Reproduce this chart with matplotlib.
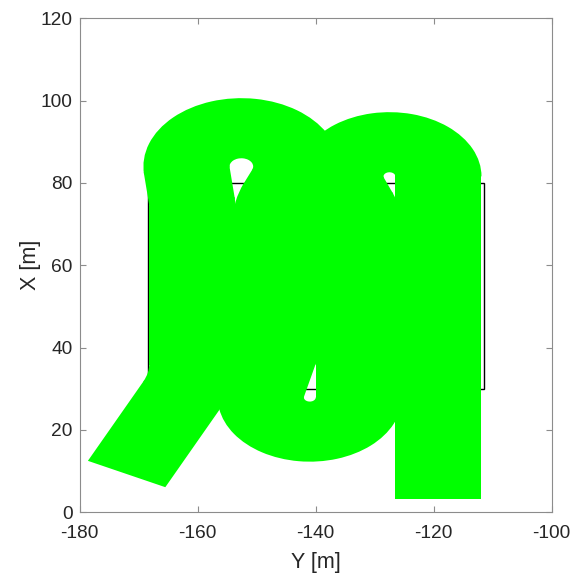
import numpy as np
import matplotlib.pyplot as plt
from matplotlib.patches import Wedge, Polygon, Rectangle

plt.rcParams['font.family'] = ['Liberation Sans', 'DejaVu Sans']
plt.rcParams['axes.unicode_minus'] = False

# field boundary [m]
field_y = [-168.4, -111.5]
field_x = [30.0, 80.0]

# implement working width [m]
swath = 14.6

# path start and end points (Y, X)
start_pt = (-172.05, 9.3)
end_pt = (-119.2, 3.2)

# turning circles along the path: centre Y, centre X, radius, sense (+1 ccw, -1 cw)
turn_y = [-178.4, -175.9, -152.6, -131.7, -161.7, -141.0, -147.7, -127.5]
turn_x = [36.2, 74.0, 84.0, 71.1, 41.2, 27.9, 69.4, 81.6]
turn_r = [17.5, 15.0, 9.3, 15.0, 15.0, 8.3, 15.0, 8.3]
turn_dir = [1, 1, -1, 1, -1, 1, 1, -1]

green = '#00ff00'
half = swath / 2.0


def unit(deg):
    a = np.radians(deg)
    return np.array([np.cos(a), np.sin(a)])


def tangent(c1, r1, s1, c2, r2, s2):
    # common tangent leaving circle 1 and joining circle 2 in the right sense
    v = c2 - c1
    D = np.hypot(*v)
    k = s2 * r2 - s1 * r1
    L = np.sqrt(D**2 - k**2)
    head = np.degrees(np.arctan2(v[1], v[0]) - np.arctan2(k, L))
    nl = unit(head + 90)
    return c1 - s1 * r1 * nl, c2 - s2 * r2 * nl, head


def band(p, q, ext0, ext1):
    d = (q - p) / np.hypot(*(q - p))
    n = np.array([-d[1], d[0]]) * half
    a = p - d * ext0
    b = q + d * ext1
    return Polygon([a + n, b + n, b - n, a - n], closed=True)


nodes = [(np.array(start_pt), 0.0, 0)]
for y, x, r, s in zip(turn_y, turn_x, turn_r, turn_dir):
    nodes.append((np.array([y, x]), r, s))
nodes.append((np.array(end_pt), 0.0, 0))

fig = plt.figure(figsize=(5.74, 5.76), dpi=100)
ax = fig.add_axes([79.7 / 574, 1 - 512.3 / 576, 472.0 / 574, 494.0 / 576])

ax.add_patch(Rectangle((field_y[0], field_x[0]), field_y[1] - field_y[0],
                       field_x[1] - field_x[0], fill=False,
                       edgecolor='black', linewidth=1.0, zorder=1))

patches = []
enter = [None] * len(nodes)
leave = [None] * len(nodes)
for i in range(len(nodes) - 1):
    c1, r1, s1 = nodes[i]
    c2, r2, s2 = nodes[i + 1]
    t1, t2, head = tangent(c1, r1, s1, c2, r2, s2)
    leave[i] = t1
    enter[i + 1] = t2
    patches.append(band(t1, t2, 0.5 if r1 > 0 else 0.0, 0.5 if r2 > 0 else 0.0))

for i in range(1, len(nodes) - 1):
    c, r, s = nodes[i]
    a_in = np.degrees(np.arctan2(*(enter[i] - c)[::-1]))
    a_out = np.degrees(np.arctan2(*(leave[i] - c)[::-1]))
    if s > 0:
        t1, t2 = a_in, a_out
    else:
        t1, t2 = a_out, a_in
    while t2 <= t1:
        t2 += 360
    patches.append(Wedge(tuple(c), r + half, t1, t2, width=swath))

for p in patches:
    p.set_facecolor(green)
    p.set_edgecolor('none')
    p.set_zorder(2)
    ax.add_patch(p)

ax.set_xlim(-180, -100)
ax.set_ylim(0, 120)
ax.set_xticks(np.arange(-180, -99, 20))
ax.set_yticks(np.arange(0, 121, 20))
for sp in ax.spines.values():
    sp.set_color('#8c8c8c')
    sp.set_linewidth(0.8)
ax.tick_params(direction='in', length=4, width=0.8, color='#8c8c8c',
               labelcolor='#262626', labelsize=13.8, top=True, right=True)
ax.tick_params(axis='x', pad=9)
ax.tick_params(axis='y', pad=5)
ax.set_xlabel('Y [m]', fontsize=15.5, color='#262626', labelpad=7)
ax.set_ylabel('X [m]', fontsize=15.5, color='#262626', labelpad=0)

fig.savefig('out.png', dpi=100)
